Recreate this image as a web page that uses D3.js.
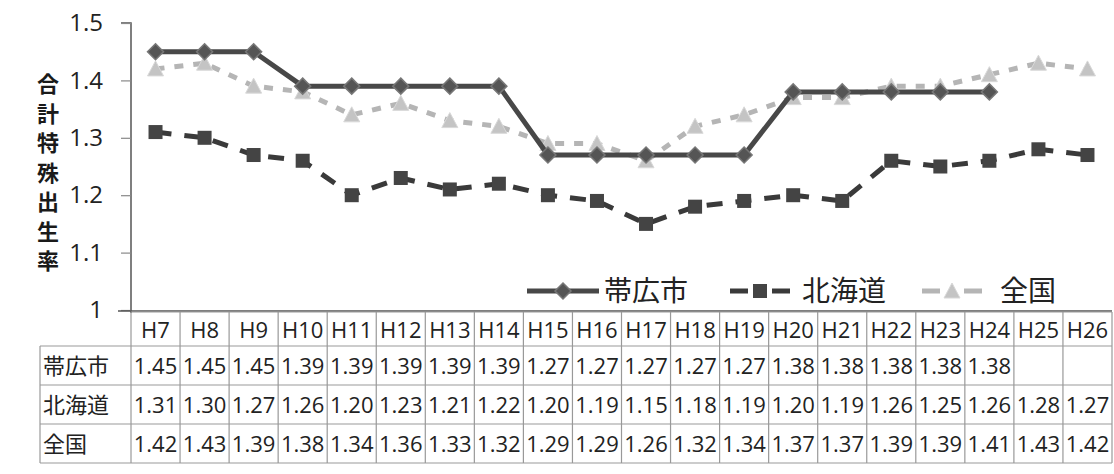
<!DOCTYPE html>
<html><head><meta charset="utf-8">
<script src="https://cdn.jsdelivr.net/npm/d3@7/dist/d3.min.js"></script>
<style>body{margin:0;background:#fff}svg{display:block}</style>
</head><body><svg id="c" width="1114" height="474"></svg>
<script>
const categories=["H7","H8","H9","H10","H11","H12","H13","H14","H15","H16","H17","H18","H19","H20","H21","H22","H23","H24","H25","H26"];
const obihiro=[1.45,1.45,1.45,1.39,1.39,1.39,1.39,1.39,1.27,1.27,1.27,1.27,1.27,1.38,1.38,1.38,1.38,1.38,null,null];
const hokkaido=[1.31,1.30,1.27,1.26,1.20,1.23,1.21,1.22,1.20,1.19,1.15,1.18,1.19,1.20,1.19,1.26,1.25,1.26,1.28,1.27];
const zenkoku=[1.42,1.43,1.39,1.38,1.34,1.36,1.33,1.32,1.29,1.29,1.26,1.32,1.34,1.37,1.37,1.39,1.39,1.41,1.43,1.42];
const seriesNames=["帯広市","北海道","全国"];
const yTicks=[1,1.1,1.2,1.3,1.4,1.5];
const yTitle="合計特殊出生率";

const svg=d3.select("#c");
const L=131,R=1112,T=23,B=310;
const x=d3.scaleBand().domain(categories).range([L,R]);
const y=d3.scaleLinear().domain([1,1.5]).range([B,T]);
const cx=c=>x(c)+x.bandwidth()/2;
const font="'Liberation Sans Narrow','Open Sans',sans-serif";

// y axis
const ya=svg.append("g").attr("transform",`translate(${L},0)`)
 .call(d3.axisLeft(y).tickValues(yTicks).tickFormat(d=>d===1?"1":d3.format(".1f")(d)).tickSize(10).tickPadding(18));
ya.select(".domain").attr("stroke","#555").attr("stroke-width",1.5).attr("d",`M-10,${T}H0V${B+3}`);
ya.selectAll(".tick line").attr("stroke","#888").attr("stroke-width",1.2);
ya.selectAll(".tick text").attr("font-family","'Open Sans',sans-serif").attr("font-size",24).attr("fill","#222");

// y title
svg.append("g").selectAll("text").data(yTitle.split("")).join("text")
 .attr("x",48).attr("y",(d,i)=>92+i*29.5).attr("text-anchor","middle")
 .attr("font-family","'Noto Sans CJK JP',sans-serif").attr("font-weight","bold").attr("font-size",22).attr("fill","#1a1a1a").text(d=>d);

// baseline
svg.append("line").attr("x1",118).attr("x2",R).attr("y1",B+1).attr("y2",B+1).attr("stroke","#555").attr("stroke-width",1.5);

// lines
const line=d3.line().defined(d=>d.v!=null).x(d=>cx(d.c)).y(d=>y(d.v));
const mk=arr=>categories.map((c,i)=>({c,v:arr[i]}));
const cfg=[
 {data:obihiro,stroke:"#484848",dash:null,w:5,shape:"diamond",fill:"#555",ms:16},
 {data:hokkaido,stroke:"#3a3a3a",dash:"16,13",w:5,shape:"square",fill:"#444",ms:14},
 {data:zenkoku,stroke:"#b5b5b5",dash:"9,10",w:5,shape:"triangle",fill:"#c4c4c4",ms:16}
];
function marker(g,shape,size,fill){
 if(shape==="diamond") return g.append("path").attr("d",`M0,${-size/2}L${size/2},0L0,${size/2}L${-size/2},0Z`).attr("fill",fill).attr("stroke","#777").attr("stroke-width",1.5);
 if(shape==="square") return g.append("rect").attr("x",-size/2).attr("y",-size/2).attr("width",size).attr("height",size).attr("fill",fill);
 return g.append("path").attr("d",`M0,${-size/2}L${size/2},${size/2-1}L${-size/2},${size/2-1}Z`).attr("fill",fill).attr("stroke","#d8d8d8").attr("stroke-width",1);
}
[2,1,0].forEach(k=>{
 const s=cfg[k];const d=mk(s.data);
 svg.append("path").datum(d).attr("d",line).attr("fill","none").attr("stroke",s.stroke).attr("stroke-width",s.w)
  .attr("stroke-dasharray",s.dash).attr("stroke-linejoin","round");
 d.filter(p=>p.v!=null).forEach(p=>{
  const g=svg.append("g").attr("transform",`translate(${cx(p.c)},${y(p.v)})`);
  marker(g,s.shape,s.ms,s.fill);
 });
});

// legend
const leg=[{x:527,len:72,tx:604},{x:730,len:60,tx:802},{x:922,len:60,tx:1000}];
leg.forEach((l,k)=>{
 const s=cfg[k];const g=svg.append("g");
 g.append("line").attr("x1",l.x).attr("x2",l.x+l.len).attr("y1",291).attr("y2",291).attr("stroke",s.stroke).attr("stroke-width",5).attr("stroke-dasharray",k===0?null:"18,24");
 marker(g.append("g").attr("transform",`translate(${l.x+l.len/2},291)`),s.shape,s.ms,s.fill);
 g.append("text").attr("x",l.tx).attr("y",301).attr("font-family","'Noto Sans CJK JP',sans-serif").attr("font-size",28).attr("fill","#222").text(seriesNames[k]);
});

// table
const rowTop=[312,346,385,424,463];
const tg=svg.append("g");
const gridC="#999";
rowTop.forEach((yy,i)=>tg.append("line").attr("x1",i===0?L:40).attr("x2",R).attr("y1",yy).attr("y2",yy).attr("stroke",gridC).attr("stroke-width",1.2));
const xs=categories.map(c=>x(c)).concat([R]);
xs.forEach(xx=>tg.append("line").attr("x1",xx).attr("x2",xx).attr("y1",312).attr("y2",463).attr("stroke",gridC).attr("stroke-width",1.2));
tg.append("line").attr("x1",40).attr("x2",40).attr("y1",346).attr("y2",463).attr("stroke",gridC).attr("stroke-width",1.2);
tg.selectAll("text.h").data(categories).join("text").attr("class","h").attr("x",d=>cx(d)).attr("y",338).attr("text-anchor","middle")
 .attr("font-family",font).attr("font-size",22).attr("fill","#222").text(d=>d);
const rows=[obihiro,hokkaido,zenkoku];
rows.forEach((arr,r)=>{
 const yy=rowTop[r+1]+28;
 tg.append("text").attr("x",43).attr("y",yy).attr("font-family","'Noto Sans CJK JP',sans-serif").attr("font-size",22).attr("fill","#222").text(seriesNames[r]);
 categories.forEach((c,i)=>{
  if(arr[i]==null) return;
  tg.append("text").attr("x",cx(c)).attr("y",yy).attr("text-anchor","middle").attr("font-family",font).attr("font-size",22).attr("fill","#222").text(d3.format(".2f")(arr[i]));
 });
});
</script></body></html>
